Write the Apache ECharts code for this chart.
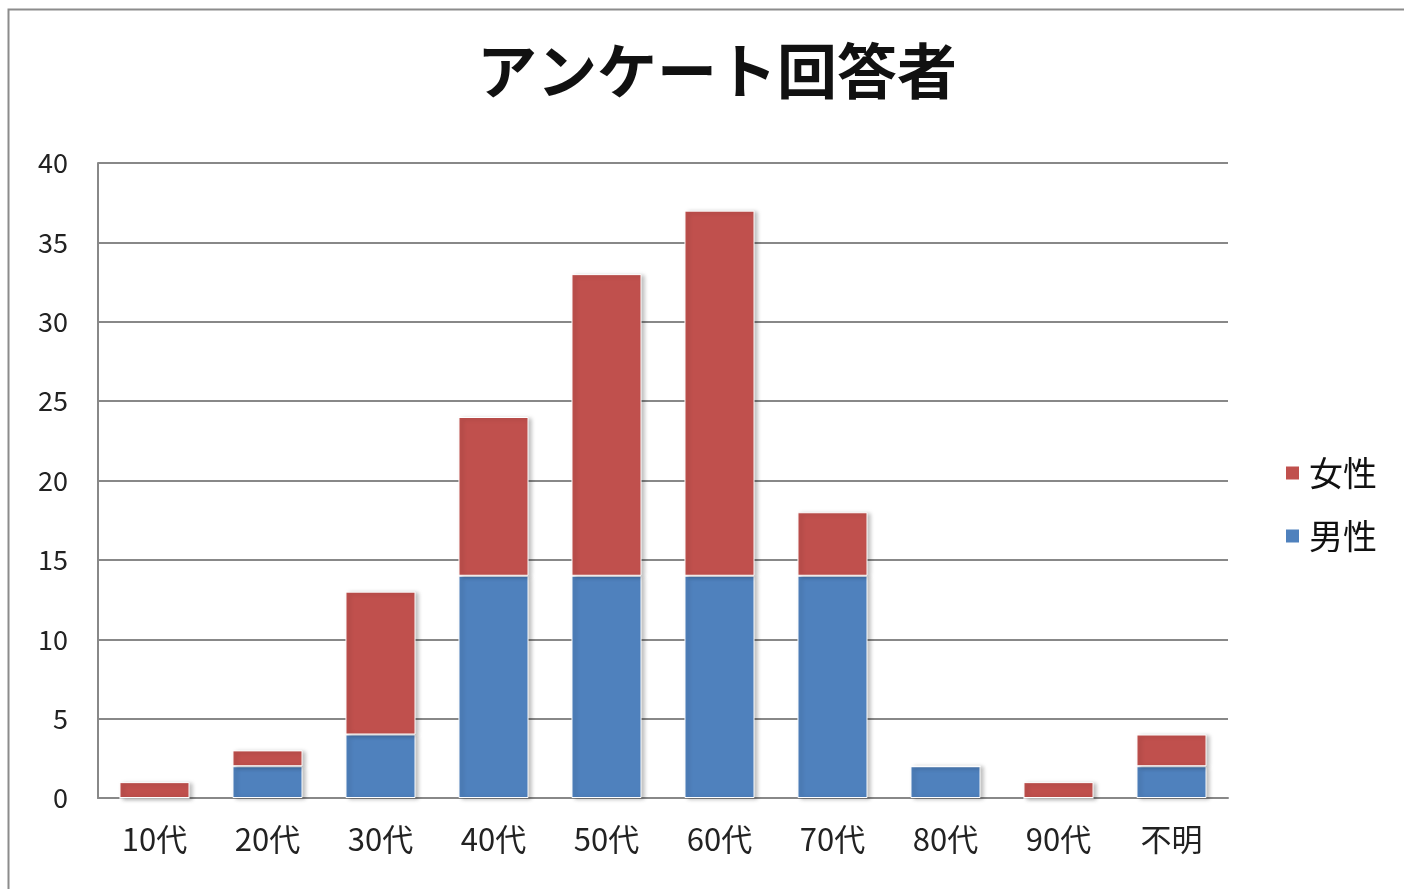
<!DOCTYPE html>
<html><head><meta charset="utf-8">
<script src="https://cdn.jsdelivr.net/npm/echarts@6/dist/echarts.min.js"></script>
<style>html,body{margin:0;padding:0;background:#fff}#c{width:1404px;height:889px}</style>
</head><body><div id="c"></div>
<script>
const categories = ['10代','20代','30代','40代','50代','60代','70代','80代','90代','不明'];
const male = [0, 2, 4, 14, 14, 14, 14, 2, 0, 2];
const female = [1, 1, 9, 10, 19, 23, 4, 0, 1, 2];
const yTicks = [0, 5, 10, 15, 20, 25, 30, 35, 40];

const font = '"Noto Sans CJK JP", "Noto Sans", sans-serif';
const chart = echarts.init(document.getElementById('c'));
const barStyle = (color) => ({
  color: color,
  borderColor: '#ffffff',
  borderWidth: 1,
  shadowColor: 'rgba(0,0,0,0.25)',
  shadowBlur: 4,
  shadowOffsetX: 3,
  shadowOffsetY: 1
});
chart.setOption({
  animation: false,
  graphic: [{
    type: 'rect', shape: {x: 8.5, y: 9.5, width: 1420, height: 900},
    style: {fill: 'none', stroke: '#8c8c8c', lineWidth: 2}, silent: true, z: -1
  }],
  title: {
    text: 'アンケート回答者', left: 712, top: 36, textAlign: 'center',
    textStyle: {fontFamily: font, fontSize: 60, fontWeight: 'bold', color: '#111'}
  },
  legend: {
    orient: 'vertical', left: 1284, top: 456, itemGap: 29, padding: 0,
    itemWidth: 15, itemHeight: 15, icon: 'rect',
    data: ['女性', '男性'],
    textStyle: {fontFamily: font, fontSize: 34, color: '#111', padding: [0, 0, 0, 4]}
  },
  grid: {left: 98, right: 176, top: 163, bottom: 91},
  xAxis: {
    type: 'category', data: categories,
    axisLine: {lineStyle: {color: '#888', width: 2}},
    axisTick: {show: false},
    axisLabel: {fontFamily: font, fontSize: 31, color: '#222', margin: 26}
  },
  yAxis: {
    type: 'value', min: 0, max: 40, interval: 5,
    axisLine: {show: true, lineStyle: {color: '#888', width: 2}},
    axisTick: {show: false},
    splitLine: {lineStyle: {color: '#888', width: 2}},
    axisLabel: {fontFamily: font, fontSize: 27, color: '#222', margin: 30,
      formatter: (v) => yTicks.includes(v) ? String(v) : ''}
  },
  series: [
    {name: '男性', type: 'bar', stack: 'a', data: male, barWidth: '62%', itemStyle: barStyle('#4F81BD')},
    {name: '女性', type: 'bar', stack: 'a', data: female, barWidth: '62%', itemStyle: barStyle('#C0504D')}
  ]
});
</script></body></html>
